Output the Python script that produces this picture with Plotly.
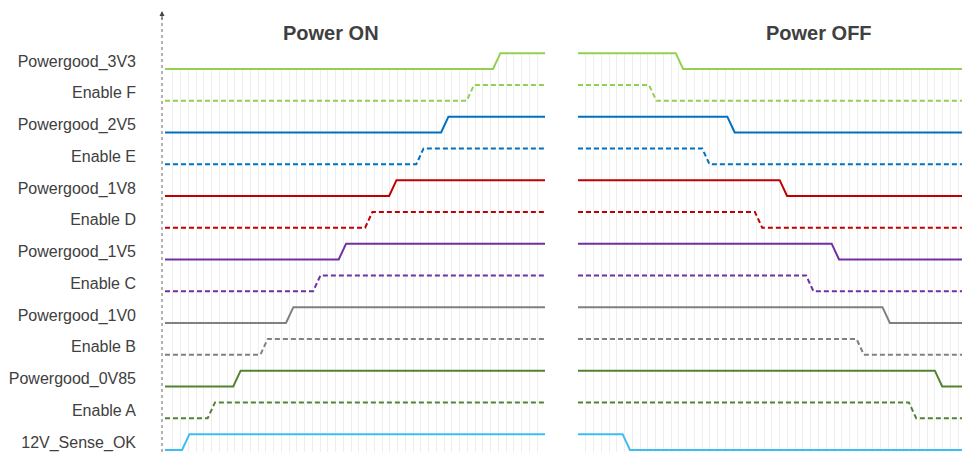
import plotly.graph_objects as go

# ---- data ----
signals = ["Powergood_3V3", "Enable F", "Powergood_2V5", "Enable E", "Powergood_1V8",
           "Enable D", "Powergood_1V5", "Enable C", "Powergood_1V0", "Enable B",
           "Powergood_0V85", "Enable A", "12V_Sense_OK"]
colors = ["#92D050", "#92D050", "#0070C0", "#0070C0", "#C00000", "#C00000",
          "#7030A0", "#7030A0", "#808080", "#808080", "#548235", "#548235", "#3DBDF2"]
dashed = [False, True, False, True, False, True, False, True, False, True, False, True, False]
on_rise = [42.3, 38.9, 35.6, 32.4, 28.9, 25.8, 22.4, 19.1, 15.6, 12.3, 8.8, 5.5, 2.2]
off_fall = [12.6, 9.15, 19.25, 16.0, 26.0, 22.8, 32.7, 29.4, 39.25, 35.9, 46.0, 42.65, 5.75]
ramp = 0.95
high_level = 0.5
on_range = [0, 49]
off_range = [0, 49.5]
panel_titles = ["Power ON", "Power OFF"]

# page body has an 8px default margin; size the figure so it fills the window
OFF_PX = 8
W, H = 970 - OFF_PX, 452 - OFF_PX
n = len(signals)
y_top = (450 - OFF_PX) / 31.75
y_bot = -2 / 31.75


def fx(px):
    return (px - OFF_PX) / W


def fy(py):
    return 1 - (py - OFF_PX) / H


fig = go.Figure()


def wave(t, lo_first, rng):
    x = [rng[0], t, t + ramp, rng[1]]
    if lo_first:
        y = [0, 0, high_level, high_level]
    else:
        y = [high_level, high_level, 0, 0]
    return x, y


for panel, (times, rng, lo_first, xa) in enumerate([
        (on_rise, on_range, True, "x"), (off_fall, off_range, False, "x2")]):
    # white mask above the top signal (hides grid above it)
    xs, ys = wave(times[0], lo_first, rng)
    base = n - 1
    fig.add_trace(go.Scatter(
        x=xs + [rng[1], rng[0]], y=[v + base for v in ys] + [y_top + 1, y_top + 1],
        fill="toself", fillcolor="white", line=dict(width=0), mode="lines",
        hoverinfo="skip", showlegend=False, xaxis=xa, yaxis="y"))
    for i, name in enumerate(signals):
        base = n - 1 - i
        xs, ys = wave(times[i], lo_first, rng)
        fig.add_trace(go.Scatter(
            x=xs, y=[v + base for v in ys], mode="lines", name=name,
            line=dict(color=colors[i], width=2, dash="5px,3px" if dashed[i] else "solid"),
            showlegend=False, xaxis=xa, yaxis="y", cliponaxis=False))

xcommon = dict(showgrid=True, gridcolor="#EEEEEE", gridwidth=1, dtick=1, tick0=0,
               showticklabels=False, zeroline=False, showline=False, ticks="")
fig.update_layout(
    width=W, height=H,
    margin=dict(l=0, r=0, t=0, b=0),
    paper_bgcolor="white", plot_bgcolor="white",
    xaxis=dict(domain=[fx(165), fx(545)], range=on_range, anchor="y", **xcommon),
    xaxis2=dict(domain=[fx(578), fx(962)], range=off_range, anchor="y", **xcommon),
    yaxis=dict(domain=[0, 1], range=[y_bot, y_top], anchor="x",
               tickvals=[n - 1 - i + 0.25 for i in range(n)], ticktext=signals,
               showgrid=False, zeroline=False, showline=False, ticks="",
               ticklabelstandoff=28,
               tickfont=dict(family="Arial, Liberation Sans", size=16, color="#404040")),
)

# y-axis arrow line
fig.add_shape(type="line", xref="paper", yref="paper", x0=fx(162), x1=fx(162),
              y0=0, y1=fy(18), line=dict(color="#666666", width=1, dash="dot"))
fig.add_annotation(x=fx(162), y=fy(11), xref="paper", yref="paper", ax=0, ay=10,
                   text="", showarrow=True, arrowhead=2, arrowsize=1, arrowwidth=1,
                   arrowcolor="#444444")

for title, cx in zip(panel_titles, [331, 819]):
    fig.add_annotation(x=fx(cx), y=fy(33), xref="paper", yref="paper", text="<b>%s</b>" % title,
                       showarrow=False, xanchor="center", yanchor="middle",
                       font=dict(family="Arial, Liberation Sans", size=20, color="#404040"))

fig.write_html("out.html")
